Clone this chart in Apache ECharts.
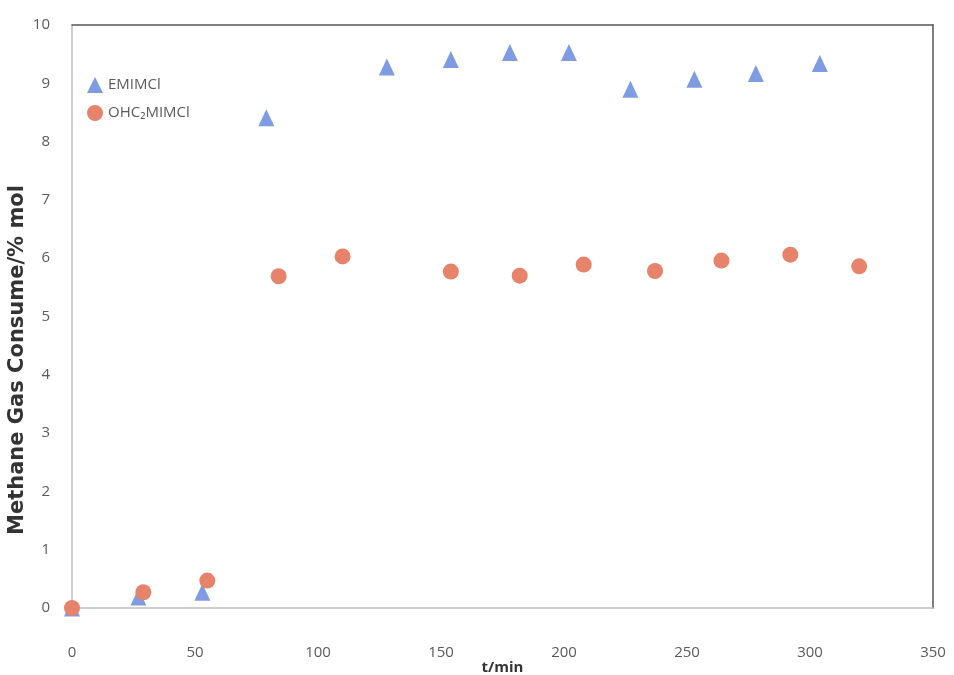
<!DOCTYPE html>
<html>
<head>
<meta charset="utf-8">
<script src="https://cdn.jsdelivr.net/npm/echarts@6/dist/echarts.min.js"></script>
<style>
html,body{margin:0;padding:0;background:#fff;}
#chart{width:954px;height:675px;}
</style>
</head>
<body>
<div id="chart"></div>
<script>
// Data
const seriesNames = ['EMIMCl', 'OHC\u2082MIMCl'];
const emimTime = [0, 27, 53, 79, 128, 154, 178, 202, 227, 253, 278, 304];
const emimValue = [0, 0.19, 0.27, 8.41, 9.28, 9.41, 9.53, 9.53, 8.90, 9.07, 9.17, 9.34];
const ohcTime = [0, 29, 55, 84, 110, 154, 182, 208, 237, 264, 292, 320];
const ohcValue = [0, 0.27, 0.47, 5.69, 6.03, 5.77, 5.70, 5.89, 5.78, 5.96, 6.06, 5.86];
const xTicks = [0, 50, 100, 150, 200, 250, 300, 350];
const yTicks = [0, 1, 2, 3, 4, 5, 6, 7, 8, 9, 10];
const xTitle = 't/min';
const yTitle = 'Methane Gas Consume/% mol';

const pair = (xs, ys) => xs.map((x, i) => [x, ys[i]]);

const chart = echarts.init(document.getElementById('chart'));
const labelStyle = {color: '#5a5a5a', fontSize: 15, fontFamily: 'Open Sans'};
chart.setOption({
  animation: false,
  backgroundColor: '#ffffff',
  grid: {left: 72, right: 21, top: 25, bottom: 67, containLabel: false, outerBoundsMode: 'none'},
  legend: {
    orient: 'vertical',
    left: 82, top: 72,
    itemGap: 12,
    itemWidth: 16, itemHeight: 16,
    textStyle: {color: '#5a5a5a', fontSize: 15, fontFamily: 'Open Sans'},
    data: [
      {name: seriesNames[0], icon: 'triangle'},
      {name: seriesNames[1], icon: 'circle'}
    ]
  },
  xAxis: [{
    type: 'value', min: xTicks[0], max: xTicks[xTicks.length - 1], interval: 50,
    axisLine: {show: true, lineStyle: {color: '#bfbfbf', width: 1.5}},
    axisTick: {show: false},
    splitLine: {show: false},
    axisLabel: Object.assign({margin: 37}, labelStyle),
    name: xTitle, nameLocation: 'middle', nameGap: 52, nameMoveOverlap: false,
    nameTextStyle: {color: '#333', fontSize: 15, fontWeight: 'bold', fontFamily: 'Open Sans'}
  }, {
    type: 'value', position: 'top', min: 0, max: 350,
    axisLine: {show: true, onZero: false, lineStyle: {color: '#555', width: 1.5}},
    axisTick: {show: false}, axisLabel: {show: false}, splitLine: {show: false}
  }],
  yAxis: [{
    type: 'value', min: yTicks[0], max: yTicks[yTicks.length - 1], interval: 1,
    axisLine: {show: true, lineStyle: {color: '#bfbfbf', width: 1.5}},
    axisTick: {show: false},
    splitLine: {show: false},
    axisLabel: Object.assign({margin: 22}, labelStyle)
  }, {
    type: 'value', position: 'right', min: 0, max: 10,
    axisLine: {show: true, onZero: false, lineStyle: {color: '#555', width: 1.5}},
    axisTick: {show: false}, axisLabel: {show: false}, splitLine: {show: false}
  }],
  graphic: [{
    type: 'text',
    x: 18, y: 360,
    rotation: Math.PI / 2,
    style: {
      text: yTitle,
      fill: '#333',
      font: 'bold 21px "DejaVu Sans"',
      align: 'center',
      verticalAlign: 'middle'
    }
  }],
  series: [{
    name: seriesNames[0], type: 'scatter',
    symbol: 'triangle', symbolSize: [16, 17],
    itemStyle: {color: '#7f9be2', opacity: 1},
    data: pair(emimTime, emimValue), z: 2
  }, {
    name: seriesNames[1], type: 'scatter',
    symbol: 'circle', symbolSize: 16,
    itemStyle: {color: '#e6836a', opacity: 1},
    data: pair(ohcTime, ohcValue), z: 3
  }]
});
</script>
</body>
</html>
